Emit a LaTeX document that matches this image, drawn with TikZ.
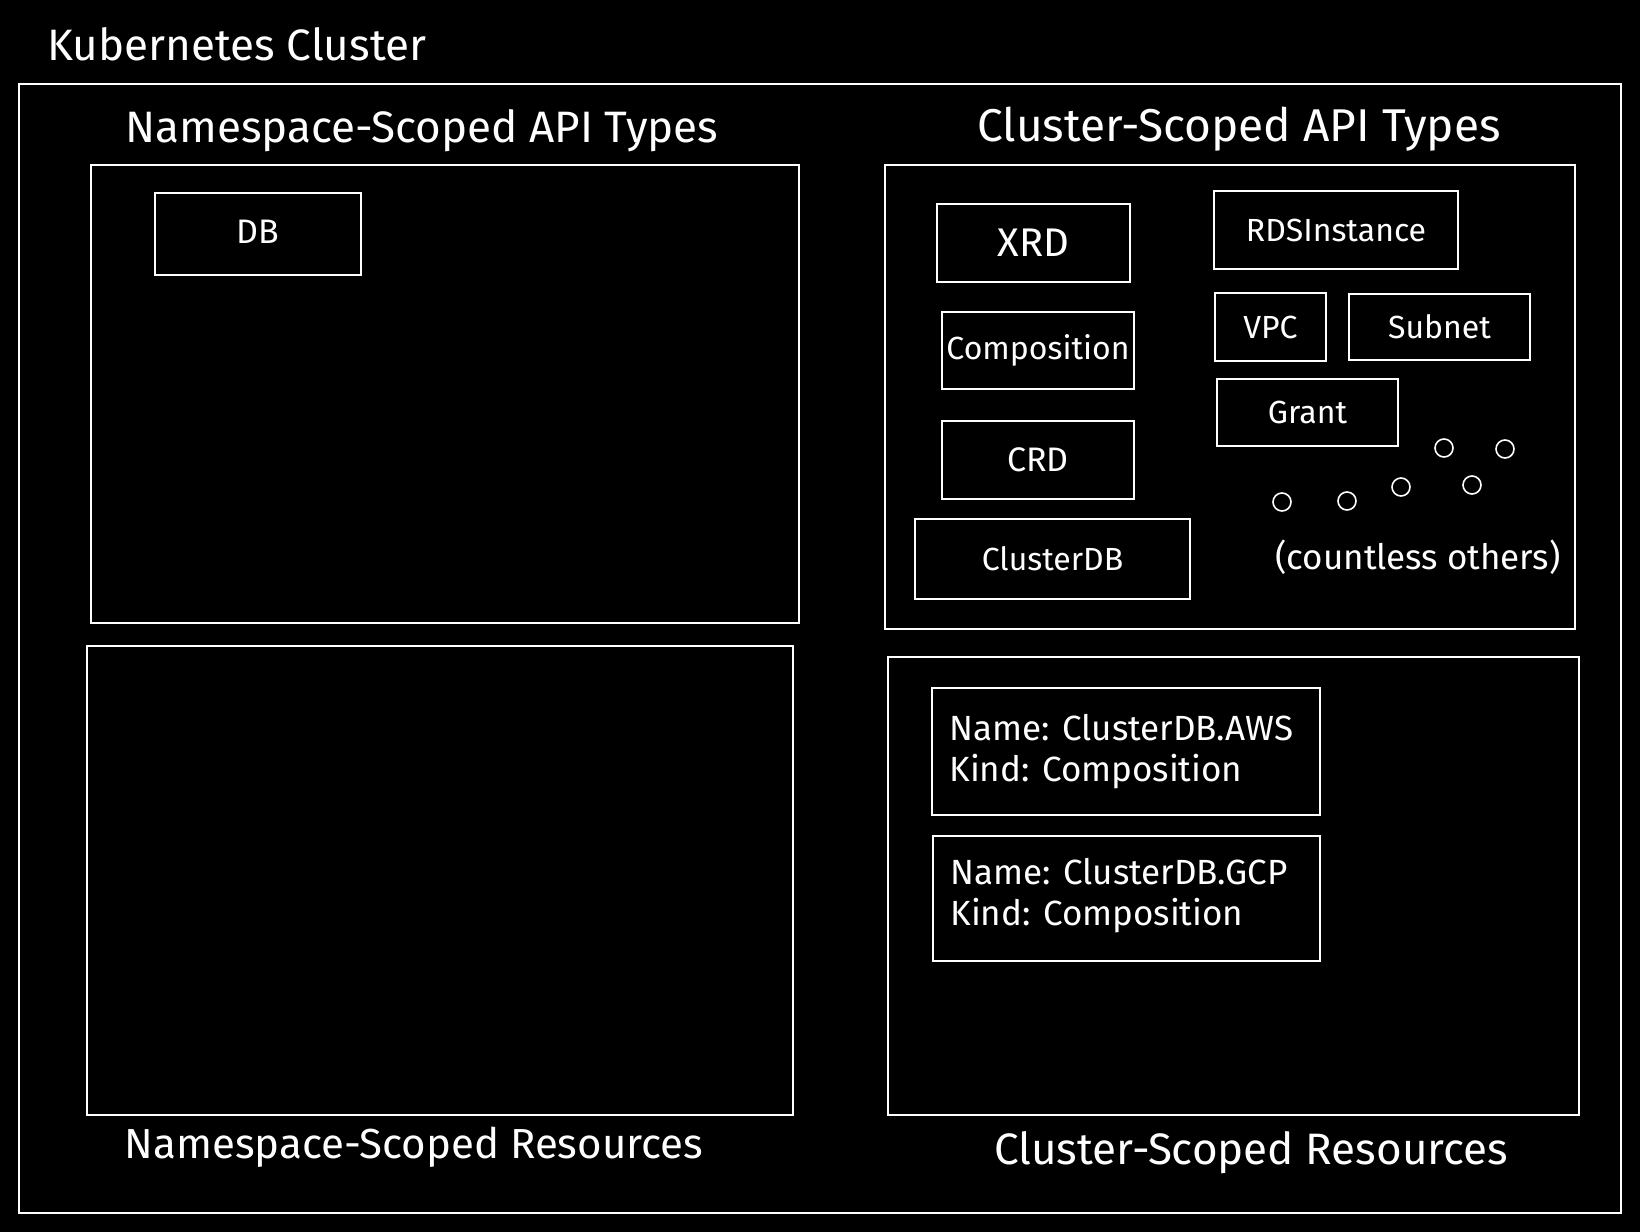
\documentclass[tikz,border=0pt]{standalone}
\usepackage{fontspec}
\setmainfont{Fira Sans}
\begin{document}
\begin{tikzpicture}[x=0.5pt,y=-0.5pt,
  box/.style={draw=white, line width=0.8pt, text=white, inner sep=0pt, font=\fontsize{16}{18}\selectfont},
  lbl/.style={text=white, inner sep=0pt, font=\fontsize{22}{24}\selectfont},
  txt/.style={text=white, anchor=west, align=left, inner sep=0pt, font=\fontsize{17.5}{20.5}\selectfont},
  blob/.style={circle, draw=white, line width=0.8pt, minimum size=9pt, inner sep=0pt}]
\fill[black] (0,0) rectangle (1640,1232);
\useasboundingbox (0,0) rectangle (1640,1232);

\node[lbl, anchor=west, font=\fontsize{22}{24}\selectfont] (title) at (47,44) {Kubernetes Cluster};
\node[box, minimum width=801pt, minimum height=564.5pt] (outer) at (820,648.5) {};

\node[lbl] (nsapil) at (422,131) {Namespace-Scoped API Types};
\node[box, minimum width=354pt, minimum height=229pt] (nsapi) at (445,394) {};
\node[box, minimum width=103pt, minimum height=41pt, font=\fontsize{17}{20}\selectfont] (db) at (258,234) {\raisebox{2pt}{DB}};

\node[box, minimum width=353pt, minimum height=234.5pt] (nsres) at (440,880.5) {};
\node[lbl, font=\fontsize{21}{24}\selectfont] (nsresl) at (414,1147) {Namespace-Scoped Resources};

\node[lbl, font=\fontsize{23}{24}\selectfont] (csapil) at (1239,129) {Cluster-Scoped API Types};
\node[box, minimum width=345pt, minimum height=232pt] (csapi) at (1230,397) {};
\node[box, minimum width=96.5pt, minimum height=39pt, font=\fontsize{20}{24}\selectfont] (xrd) at (1033.5,243) {XRD};
\node[box, minimum width=96pt, minimum height=38.5pt] (comp) at (1038,350.5) {Composition};
\node[box, minimum width=96pt, minimum height=39pt, font=\fontsize{17}{20}\selectfont] (crd) at (1038,460) {CRD};
\node[box, minimum width=137.5pt, minimum height=40pt] (cdb) at (1052.5,559) {ClusterDB};
\node[box, minimum width=122pt, minimum height=39pt] (rds) at (1336,230) {RDSInstance};
\node[box, minimum width=55.5pt, minimum height=34pt] (vpc) at (1270.5,327) {VPC};
\node[box, minimum width=90.5pt, minimum height=33pt] (subnet) at (1439.5,327) {Subnet};
\node[box, minimum width=90.5pt, minimum height=33.5pt] (grant) at (1307.5,412.5) {Grant};
\node[blob] (o1) at (1444,448) {};
\node[blob] (o2) at (1505,449) {};
\node[blob] (o3) at (1282,502) {};
\node[blob] (o4) at (1347,501) {};
\node[blob] (o5) at (1401,487) {};
\node[blob] (o6) at (1472,485) {};
\node[text=white, inner sep=0pt, font=\fontsize{17.5}{20}\selectfont] (others) at (1418,557) {(countless others)};

\node[box, minimum width=345.5pt, minimum height=229pt] (csres) at (1233.5,886) {};
\node[box, minimum width=194pt, minimum height=63.5pt] (aws) at (1126,751.5) {};
\node[txt] (awst) at (949,751.5) {Name: ClusterDB.AWS\\Kind: Composition};
\node[box, minimum width=193.5pt, minimum height=62.5pt] (gcp) at (1126.5,898.5) {};
\node[txt] (gcpt) at (950,896) {Name: ClusterDB.GCP\\Kind: Composition};
\node[lbl] (csresl) at (1251,1153) {Cluster-Scoped Resources};
\end{tikzpicture}
\end{document}
